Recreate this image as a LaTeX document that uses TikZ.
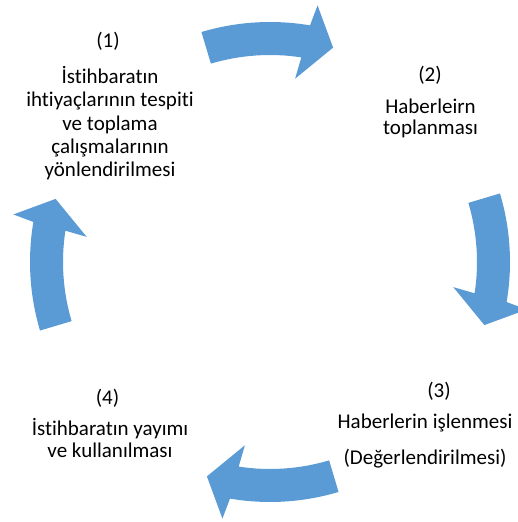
\documentclass[tikz,border=0pt]{standalone}
\usepackage{fontspec}
\setmainfont{Carlito}[Ligatures=NoCommon]
\usepackage{tikz}
\definecolor{smartblue}{RGB}{91,155,213}
\tikzset{
         cyclearrow/.style={fill=smartblue},
         steptext/.style={align=center,inner sep=0pt,anchor=base,
          font=\fontsize{15.75}{17.6}\selectfont}
        }

\begin{document}
\begin{tikzpicture}[x=0.75pt,y=0.75pt]

\useasboundingbox (0,0) rectangle (518,522);
\clip (0,0) rectangle (518,522);

%some arrows round the centre (270,260)
\fill[cyclearrow,shift={(270,260)}] (106.6:240) arc[start angle=106.6,end angle=80.4,radius=240]
 -- (79.5:261) -- (73.6:223.5) -- (82.2:185) -- (81.3:207)
 arc[start angle=81.3,end angle=106.6,radius=207] -- cycle; %(1) to (2)
\fill[cyclearrow,shift={(270,260)}] (16.6:240) arc[start angle=16.6,end angle=-9.6,radius=240]
 -- (-10.5:261) -- (-16.4:223.5) -- (-7.8:185) -- (-8.7:207)
 arc[start angle=-8.7,end angle=16.6,radius=207] -- cycle; %(2) to (3)
\fill[cyclearrow,shift={(270,260)}] (286.6:240) arc[start angle=286.6,end angle=260.4,radius=240]
 -- (259.5:261) -- (253.6:223.5) -- (262.2:185) -- (261.3:207)
 arc[start angle=261.3,end angle=286.6,radius=207] -- cycle; %(3) to (4)
\fill[cyclearrow,shift={(270,260)}] (196.6:240) arc[start angle=196.6,end angle=170.4,radius=240]
 -- (169.5:261) -- (163.6:223.5) -- (172.2:185) -- (171.3:207)
 arc[start angle=171.3,end angle=196.6,radius=207] -- cycle; %(4) to (1)

%some labels (base = last line)
\node[steptext] (num1) at (108,474) {(1)};
\node[steptext] (step1) at (110,345) {İstihbaratın\\ihtiyaçlarının tespiti\\ve toplama\\çalışmalarının\\yönlendirilmesi};
\node[steptext] (num2) at (430,440) {(2)};
\node[steptext] (step2) at (430.5,387) {Haberleirn\\[-1.5pt]toplanması};
\node[steptext] (num3) at (439,124.5) {(3)};
\node[steptext] (step3) at (425,57) {Haberlerin işlenmesi\\[9.4pt](Değerlendirilmesi)};
\node[steptext] (num4) at (107.5,117) {(4)};
\node[steptext] (step4) at (110,64) {İstihbaratın yayımı\\[-0.7pt]ve kullanılması};
\end{tikzpicture}
\end{document}
